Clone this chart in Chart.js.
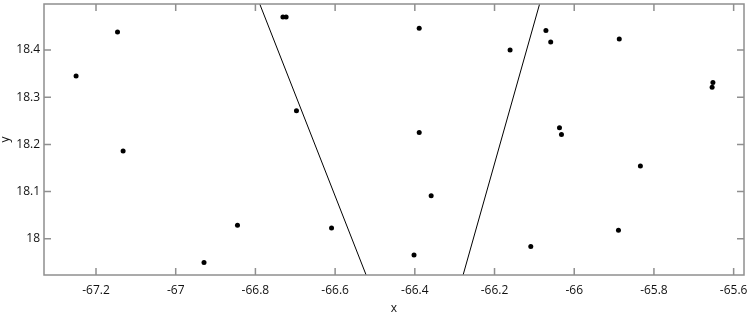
<!DOCTYPE html>
<html>
<head>
  <meta charset="utf-8">
  <title>Scatter x / y</title>
  <script src="https://cdn.jsdelivr.net/npm/chart.js"></script>
  <style>
    body { margin: 0; padding: 0; background: #ffffff; }
    #wrap { width: 749px; height: 314px; }
  </style>
</head>
<body>
  <div id="wrap"><canvas id="myChart" width="749" height="314"></canvas></div>

  <script>
    // point data
    const xValues = [-67.250, -67.146, -67.132, -66.929, -66.845, -66.731, -66.723, -66.697,
                     -66.609, -66.389, -66.389, -66.359, -66.402, -66.161, -66.109, -66.071,
                     -66.059, -66.037, -66.032, -65.887, -65.889, -65.834, -65.652, -65.654];
    const yValues = [18.345, 18.438, 18.186, 17.950, 18.029, 18.470, 18.470, 18.271,
                     18.023, 18.446, 18.225, 18.091, 17.966, 18.400, 17.984, 18.441,
                     18.417, 18.235, 18.221, 18.423, 18.018, 18.154, 18.331, 18.321];

    // the two straight lines (end points)
    const line1X = [-66.789, -66.522];
    const line1Y = [18.497, 17.923];
    const line2X = [-66.279, -66.087];
    const line2Y = [17.923, 18.497];

    // axis ranges and tick labels
    const xRange = [-67.3305, -65.574];
    const yRange = [17.9234, 18.4973];
    const xTicks = [-67.2, -67, -66.8, -66.6, -66.4, -66.2, -66, -65.8, -65.6];
    const yTicks = [18, 18.1, 18.2, 18.3, 18.4];

    const toPoints = (xs, ys) => xs.map((x, i) => ({ x: x, y: ys[i] }));

    // frame + inward tick marks on all four sides
    const framePlugin = {
      id: 'frame',
      afterDatasetsDraw(chart) {
        const { ctx, chartArea: a, scales } = chart;
        ctx.save();
        ctx.strokeStyle = '#8f8f8f';
        ctx.lineWidth = 1.5;
        ctx.strokeRect(a.left, a.top, a.right - a.left, a.bottom - a.top);
        ctx.beginPath();
        xTicks.forEach(v => {
          const px = scales.x.getPixelForValue(v);
          ctx.moveTo(px, a.bottom); ctx.lineTo(px, a.bottom - 7);
          ctx.moveTo(px, a.top); ctx.lineTo(px, a.top + 7);
        });
        yTicks.forEach(v => {
          const py = scales.y.getPixelForValue(v);
          ctx.moveTo(a.left, py); ctx.lineTo(a.left + 7, py);
          ctx.moveTo(a.right, py); ctx.lineTo(a.right - 7, py);
        });
        ctx.stroke();
        ctx.restore();
      }
    };

    const ctx = document.getElementById('myChart').getContext('2d');
    const chart = new Chart(ctx, {
      type: 'scatter',
      data: {
        datasets: [
          {
            label: 'points',
            data: toPoints(xValues, yValues),
            pointRadius: 2.5,
            pointBackgroundColor: '#000000',
            pointBorderWidth: 0,
            showLine: false
          },
          {
            label: 'line 1',
            data: toPoints(line1X, line1Y),
            showLine: true,
            pointRadius: 0,
            borderColor: '#000000',
            borderWidth: 1
          },
          {
            label: 'line 2',
            data: toPoints(line2X, line2Y),
            showLine: true,
            pointRadius: 0,
            borderColor: '#000000',
            borderWidth: 1
          }
        ]
      },
      options: {
        responsive: false,
        animation: false,
        layout: { padding: { top: 1, right: 5, left: 0, bottom: 0 } },
        scales: {
          x: {
            type: 'linear',
            min: xRange[0],
            max: xRange[1],
            afterBuildTicks: s => { s.ticks = xTicks.map(v => ({ value: v })); },
            afterFit: s => { s.height = 39; s.paddingLeft = 0; s.paddingRight = 0; },
            grid: { display: false, drawTicks: false },
            border: { display: false },
            ticks: {
              color: '#111111',
              padding: 8,
              maxRotation: 0,
              font: { family: 'Open Sans', size: 12 },
              callback: v => String(v)
            },
            title: {
              display: true,
              text: 'x',
              color: '#111111',
              padding: { top: 0, bottom: -2 },
              font: { family: 'Open Sans', size: 12 }
            }
          },
          y: {
            type: 'linear',
            min: yRange[0],
            max: yRange[1],
            afterBuildTicks: s => { s.ticks = yTicks.map(v => ({ value: v })); },
            afterFit: s => { s.width = 44; s.paddingTop = 0; s.paddingBottom = 0; },
            grid: { display: false, drawTicks: false },
            border: { display: false },
            ticks: {
              color: '#111111',
              padding: 4,
              font: { family: 'Open Sans', size: 12 },
              callback: v => String(v)
            },
            title: {
              display: true,
              text: 'y',
              color: '#111111',
              padding: { top: -2, bottom: 0 },
              font: { family: 'Open Sans', size: 12 }
            }
          }
        },
        plugins: {
          legend: { display: false },
          tooltip: { enabled: false }
        }
      },
      plugins: [framePlugin]
    });
  </script>
</body>
</html>
